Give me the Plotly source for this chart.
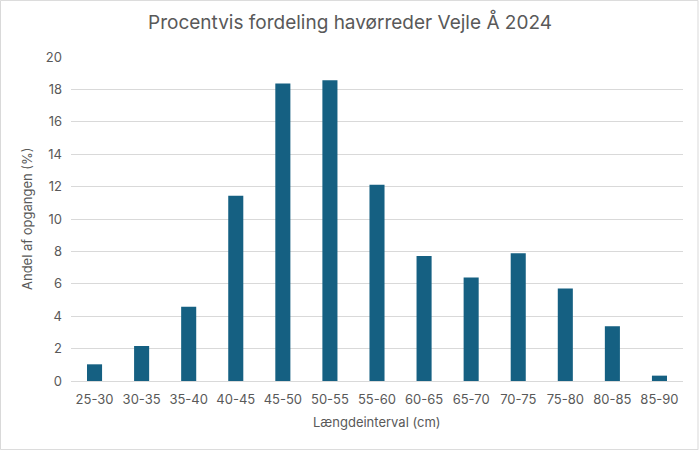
import plotly.graph_objects as go

# Length intervals (cm) and share of the run (%)
intervals = ["25-30", "30-35", "35-40", "40-45", "45-50", "50-55", "55-60",
             "60-65", "65-70", "70-75", "75-80", "80-85", "85-90"]
andel = [1.03, 2.16, 4.58, 11.44, 18.37, 18.56, 12.12,
         7.71, 6.39, 7.88, 5.71, 3.38, 0.33]
y_ticks = [0, 2, 4, 6, 8, 10, 12, 14, 16, 18, 20]

text_color = "#595959"
font_family = "Inter, 'Open Sans', sans-serif"

fig = go.Figure(
    go.Bar(
        x=intervals,
        y=andel,
        marker=dict(color="#156082", line=dict(width=0)),
        width=0.32,
    )
)

fig.update_layout(
    width=700,
    height=450,
    margin=dict(l=71, r=17, t=57, b=69, autoexpand=False),
    paper_bgcolor="white",
    plot_bgcolor="white",
    font=dict(family=font_family, color=text_color, size=13),
    title=dict(
        text="Procentvis fordeling havørreder Vejle Å 2024",
        x=0.5,
        xanchor="center",
        y=0.95,
        yanchor="middle",
        font=dict(size=19, color=text_color),
    ),
    showlegend=False,
    xaxis=dict(
        showgrid=False,
        showline=True,
        linecolor="#D9D9D9",
        ticks="",
        ticklabelstandoff=6,
        automargin=False,
    ),
    yaxis=dict(
        range=[0, 20],
        tickvals=y_ticks,
        showgrid=True,
        gridcolor="#D9D9D9",
        zeroline=False,
        ticks="",
        ticklabelstandoff=8,
        automargin=False,
    ),
    annotations=[
        dict(text="Længdeinterval (cm)", xref="paper", yref="paper",
             x=0.5, y=-41 / 323.5, xanchor="center", yanchor="middle",
             showarrow=False, font=dict(size=13)),
        dict(text="Andel af opgangen (%)", xref="paper", yref="paper",
             x=-44 / 612, y=0.5, xanchor="center", yanchor="middle",
             textangle=-90, showarrow=False, font=dict(size=13)),
    ],
    shapes=[
        dict(type="rect", xref="paper", yref="paper",
             x0=-70.5 / 612, x1=1 + 15 / 612, y0=-68.5 / 323.5, y1=1 + 56.5 / 323.5,
             line=dict(color="#D9D9D9", width=1)),
    ],
)

# drop the default page margin so the figure sits at the window origin
fig.write_html(
    "out.html",
    config={"displayModeBar": False},
    post_script="document.body.style.margin = '0';",
)
